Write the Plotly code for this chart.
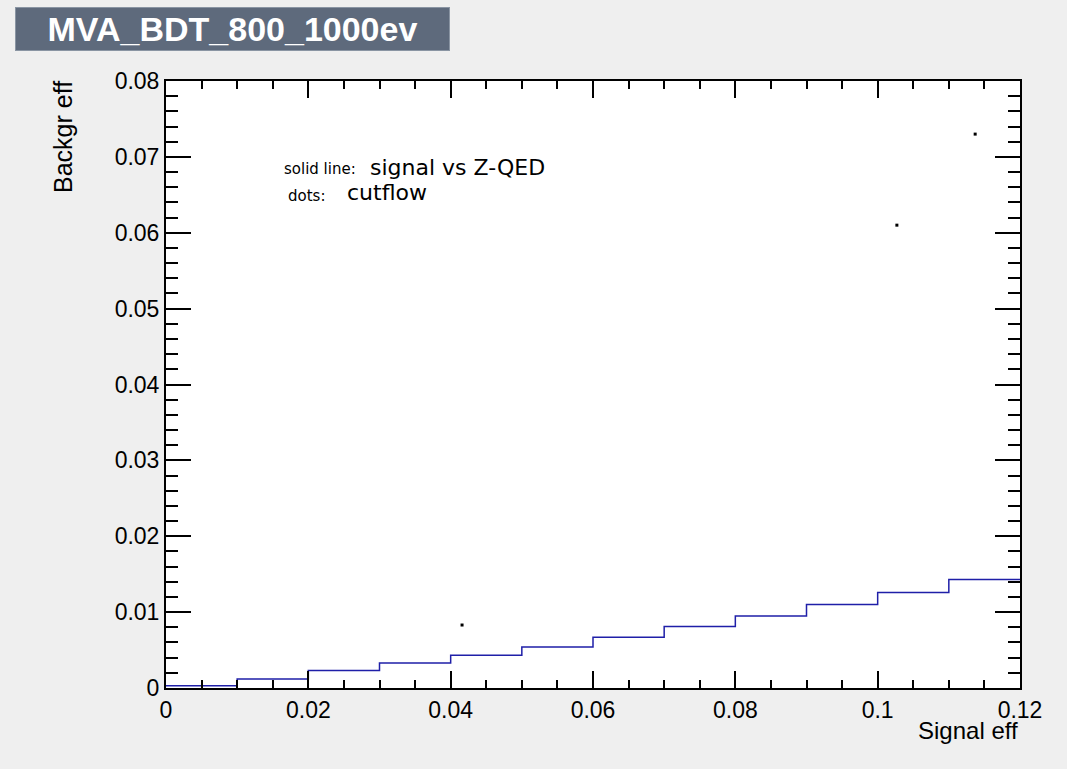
import plotly.graph_objects as go

# Step histogram: signal vs Z-QED (bin edges 0..0.12, width 0.01)
bin_edges = [0.0, 0.01, 0.02, 0.03, 0.04, 0.05, 0.06, 0.07, 0.08, 0.09, 0.10, 0.11, 0.12]
bkg_eff = [0.0003, 0.0012, 0.0023, 0.0033, 0.0043, 0.0054, 0.0067, 0.0081, 0.0095, 0.0110, 0.0126, 0.0143]

# Cutflow dots
cut_sig = [0.0416, 0.1027, 0.1137]
cut_bkg = [0.0083, 0.0610, 0.0730]

W, H = 1067, 769
L, R, T, B = 166, 1020, 81, 688  # plot area pixel bounds

def px(x):
    return (x - L) / (R - L)

def py(y):
    return (B - y) / (B - T)

fig = go.Figure()
fig.add_trace(go.Scatter(
    x=bin_edges, y=bkg_eff + [bkg_eff[-1]], mode="lines", line_shape="hv",
    line=dict(color="#1f1fa8", width=1.5), showlegend=False, hoverinfo="skip"))
fig.add_trace(go.Scatter(
    x=cut_sig, y=cut_bkg, mode="markers",
    marker=dict(symbol="square", size=3, color="black", line=dict(width=0)),
    showlegend=False))

SANS = "Liberation Sans, Arial, sans-serif"
tickfont = dict(family=SANS, size=23, color="black")
fig.update_xaxes(range=[0, 0.12], tickvals=[0, 0.02, 0.04, 0.06, 0.08, 0.1, 0.12],
                 ticktext=["0", "0.02", "0.04", "0.06", "0.08", "0.1", "0.12"],
                 ticks="inside", ticklen=17, tickwidth=1.5, tickcolor="black",
                 minor=dict(ticks="inside", ticklen=8, dtick=0.005, tick0=0, tickwidth=1.5,
                            tickcolor="black", showgrid=False),
                 showline=True, linecolor="black", linewidth=2, mirror="ticks",
                 showgrid=False, zeroline=False, tickfont=tickfont)
fig.update_yaxes(range=[0, 0.08], tickvals=[0, 0.01, 0.02, 0.03, 0.04, 0.05, 0.06, 0.07, 0.08],
                 ticktext=["0", "0.01", "0.02", "0.03", "0.04", "0.05", "0.06", "0.07", "0.08"],
                 ticks="inside", ticklen=25, tickwidth=1.5, tickcolor="black",
                 minor=dict(ticks="inside", ticklen=12, dtick=0.002, tick0=0, tickwidth=1.5,
                            tickcolor="black", showgrid=False),
                 showline=True, linecolor="black", linewidth=2, mirror="ticks",
                 showgrid=False, zeroline=False, tickfont=tickfont)

annots = [
    # title box
    dict(x=px(15), y=py(7), xref="paper", yref="paper", xanchor="left", yanchor="top",
         text="<b>MVA_BDT_800_1000ev</b>", showarrow=False, width=433, height=42,
         bgcolor="#5e6a7c", bordercolor="#8a95a3", borderwidth=1, borderpad=0,
         font=dict(family=SANS, size=34, color="white")),
    # axis titles
    dict(x=1, y=py(731), xref="paper", yref="paper", xanchor="right", yanchor="middle",
         text="Signal eff", showarrow=False,
         font=dict(family=SANS, size=24, color="black")),
    dict(x=px(63), y=py(79), xref="paper", yref="paper", xanchor="center", yanchor="top",
         text="Backgr eff", textangle=-90, showarrow=False,
         font=dict(family=SANS, size=25, color="black")),
    # legend texts
    dict(x=px(282), y=py(169), xref="paper", yref="paper", xanchor="left", yanchor="middle",
         text="solid line:", showarrow=False,
         font=dict(family="DejaVu Sans, sans-serif", size=15, color="black")),
    dict(x=px(368), y=py(167), xref="paper", yref="paper", xanchor="left", yanchor="middle",
         text="signal vs Z-QED", showarrow=False,
         font=dict(family="DejaVu Sans, sans-serif", size=22, color="black")),
    dict(x=px(286), y=py(196), xref="paper", yref="paper", xanchor="left", yanchor="middle",
         text="dots:", showarrow=False,
         font=dict(family="DejaVu Sans, sans-serif", size=15, color="black")),
    dict(x=px(345), y=py(193), xref="paper", yref="paper", xanchor="left", yanchor="middle",
         text="cutflow", showarrow=False,
         font=dict(family="DejaVu Sans, sans-serif", size=22, color="black")),
]

fig.update_layout(
    width=W, height=H,
    margin=dict(l=L, r=W - R, t=T, b=H - B, pad=0),
    paper_bgcolor="#efefef", plot_bgcolor="white",
    annotations=annots,
)

fig.write_html("out.html")
